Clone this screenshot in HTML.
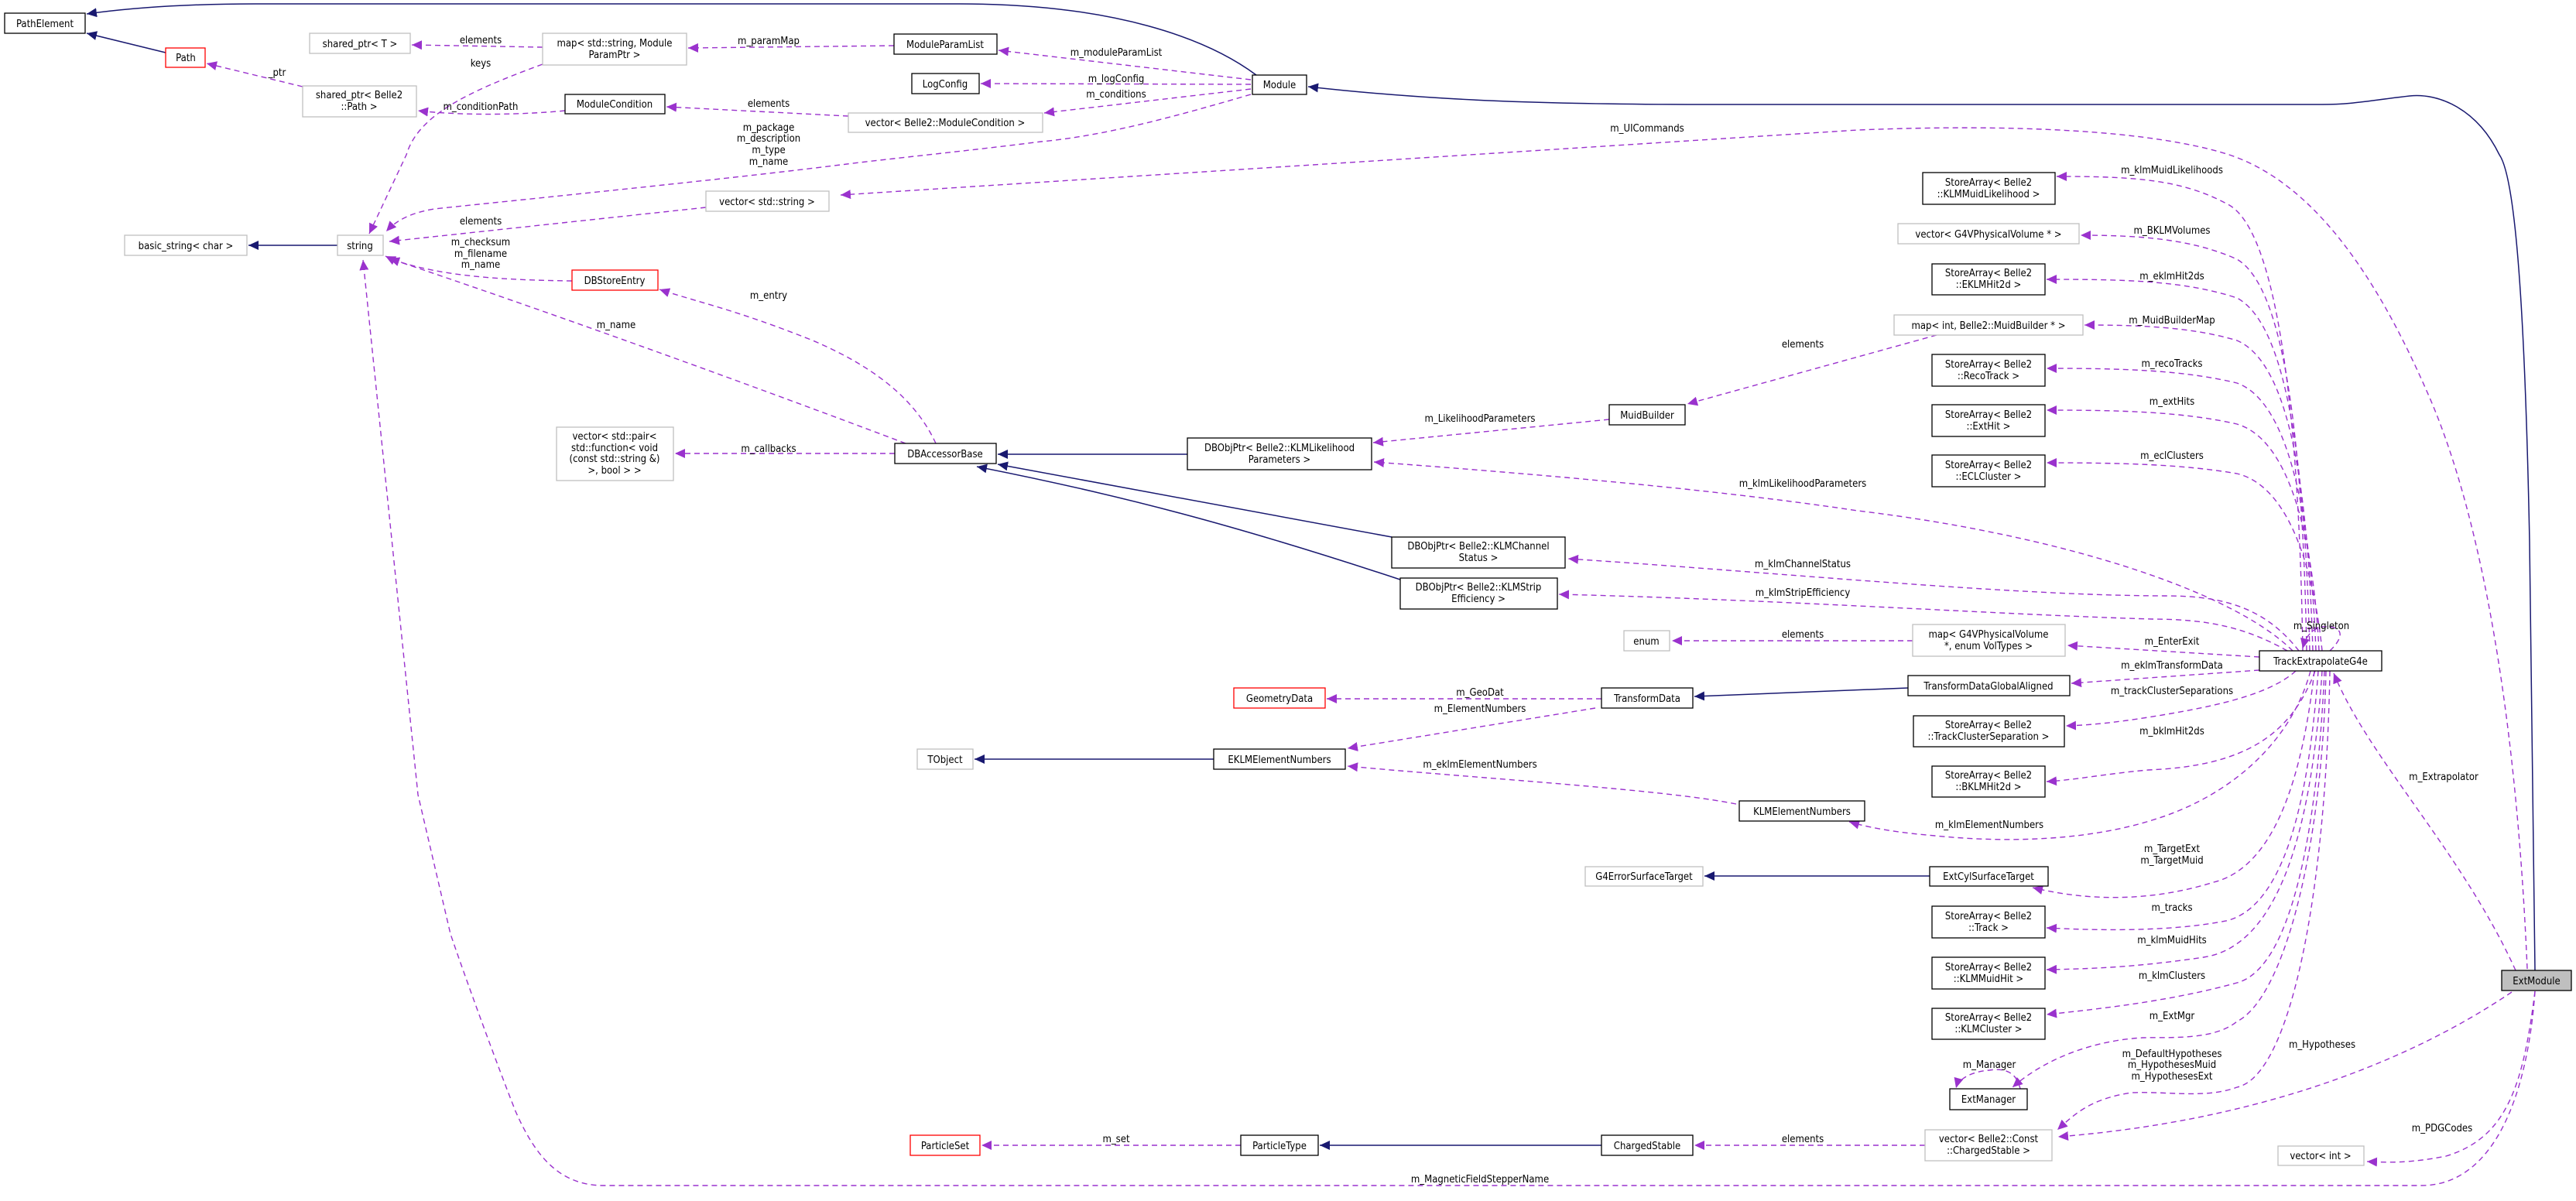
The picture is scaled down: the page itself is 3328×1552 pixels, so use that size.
<!DOCTYPE html>
<html><head><meta charset="utf-8">
<style>
html,body{margin:0;padding:0;background:#fff;}
svg{display:block;}
text{font-family:"DejaVu Sans Condensed","DejaVu Sans","Liberation Sans",sans-serif;font-stretch:condensed;font-size:13px;fill:#000;}
.b{fill:#fff;stroke:#000;stroke-width:1.3;}
.g{fill:#fff;stroke:#bfbfbf;stroke-width:1.3;}
.r{fill:#fff;stroke:#ff0000;stroke-width:1.3;}
.d{fill:none;stroke:#9a32cd;stroke-width:1.4;stroke-dasharray:7,5;marker-end:url(#pa);}
.s{fill:none;stroke:#191970;stroke-width:1.5;marker-end:url(#na);}
</style></head><body>
<svg width="3328" height="1552" viewBox="0 0 3328 1552" xmlns="http://www.w3.org/2000/svg">
<defs>
<marker id="pa" markerUnits="userSpaceOnUse" markerWidth="14" markerHeight="12" refX="13" refY="6" orient="auto"><path d="M0,0 L13,6 L0,12 z" fill="#9a32cd"/></marker>
<marker id="na" markerUnits="userSpaceOnUse" markerWidth="14" markerHeight="12" refX="13" refY="6" orient="auto"><path d="M0,0 L13,6 L0,12 z" fill="#191970"/></marker>
</defs>

<!-- inheritance edges -->
<path class="s" d="M1623,97 C1560,50 1440,5 1240,5 L330,5 C240,5 170,10 112,18"/>
<path class="s" d="M214,68 L112,43"/>
<path class="s" d="M3275,1254 L3268,700 C3262,400 3250,230 3229,200 C3200,140 3150,120 3113,124 C3060,130 3040,135 3000,135 L2200,135 C2000,135 1850,130 1690,112"/>
<path class="s" d="M436,317 L321,317"/>
<path class="s" d="M1534,587 L1289,587"/>
<path class="s" d="M1798,694 L1289,600"/>
<path class="s" d="M1809,749 C1600,680 1450,640 1262,603"/>
<path class="s" d="M1568,981 L1259,981"/>
<path class="s" d="M2465,889 L2189,900"/>
<path class="s" d="M2493,1132 L2202,1132"/>
<path class="s" d="M2069,1480 L1705,1480"/>

<!-- usage edges, top-left -->
<path class="d" d="M701,61 L532,58"/>
<path class="d" d="M1155,59 L889,62"/>
<path class="d" d="M701,83 C600,120 540,150 525,200 L477,302"/>
<path class="d" d="M391,112 L267,82"/>
<path class="d" d="M730,143 C680,148 600,150 540,143"/>
<path class="d" d="M1096,150 L861,138"/>
<path class="d" d="M1616,103 L1290,65"/>
<path class="d" d="M1616,109 L1267,108"/>
<path class="d" d="M1616,115 L1349,146"/>
<path class="d" d="M1616,122 C1520,150 1430,175 1345,183 C1250,195 1150,205 1094,212 C950,230 800,245 561,270 C530,275 512,285 499,299"/>
<path class="d" d="M912,268 L503,312"/>
<path class="d" d="M739,363 C650,362 590,357 540,345 C520,340 508,336 498,331"/>
<path class="d" d="M1170,573 C950,490 700,400 503,334"/>
<path class="d" d="M1209,573 C1180,510 1120,470 1050,440 C950,400 900,390 852,374"/>
<path class="d" d="M1156,586 L872,586"/>
<path class="d" d="M3265,1252 C3250,900 3200,650 3135,505 C3080,380 3000,240 2880,200 C2780,168 2600,160 2400,168 L1086,252"/>
<path class="d" d="M3275,1281 C3265,1420 3220,1532 3128,1532 L780,1532 C720,1532 690,1490 666,1436 C640,1370 600,1260 582,1207 L540,1027 L469,336"/>

<!-- middle -->
<path class="d" d="M2079,542 L1774,572"/>
<path class="d" d="M2502,433 L2180,522"/>
<path class="d" d="M2471,828 L2160,828"/>
<path class="d" d="M2069,903 L1714,903"/>
<path class="d" d="M2061,915 L1741,967"/>
<path class="d" d="M2243,1039 C2150,1020 1900,1005 1741,990"/>
<path class="d" d="M2487,1480 L2189,1480"/>
<path class="d" d="M1603,1480 L1268,1480"/>

<!-- TrackExtrapolateG4e top group -->
<path class="d" d="M2975,841 C2970,520 2940,300 2880,265 C2820,232 2760,228 2657,228"/>
<path class="d" d="M2980,841 C2975,560 2950,370 2890,335 C2830,308 2760,304 2688,304"/>
<path class="d" d="M2984,841 C2978,600 2955,420 2890,385 C2820,362 2740,361 2644,361"/>
<path class="d" d="M2988,841 C2982,640 2960,470 2890,440 C2830,422 2760,420 2693,420"/>
<path class="d" d="M2992,841 C2986,680 2960,520 2890,495 C2820,478 2740,476 2644,476"/>
<path class="d" d="M2996,841 C2990,720 2965,570 2890,548 C2820,532 2740,530 2644,530"/>
<path class="d" d="M3000,841 C2992,760 2965,630 2890,612 C2820,600 2740,598 2644,598"/>
<path class="d" d="M2962,841 C2880,760 2650,690 2400,660 C2200,630 1950,610 1775,597"/>
<path class="d" d="M2970,841 C2930,790 2880,770 2800,770 C2600,770 2300,740 2026,722"/>
<path class="d" d="M2955,841 C2900,810 2850,800 2780,800 C2600,795 2300,775 2014,768"/>
<path class="d" d="M3010,841 C3032,820 3025,808 3000,810 C2985,813 2978,825 2975,838"/>
<path class="d" d="M2919,849 L2671,834"/>
<path class="d" d="M2919,866 L2676,883"/>

<!-- bottom group -->
<path class="d" d="M2966,867 C2930,900 2850,915 2775,927 C2730,934 2700,937 2669,938"/>
<path class="d" d="M2991,867 C2960,950 2900,990 2775,995 C2720,1000 2680,1008 2644,1010"/>
<path class="d" d="M2985,867 C2960,960 2880,1030 2780,1060 C2700,1085 2600,1090 2500,1080 C2440,1075 2410,1068 2389,1062"/>
<path class="d" d="M2990,867 C2975,1000 2940,1120 2860,1140 C2780,1165 2700,1165 2626,1147"/>
<path class="d" d="M2995,867 C2985,1000 2960,1170 2876,1190 C2800,1205 2700,1202 2644,1199"/>
<path class="d" d="M3000,867 C2990,1020 2960,1220 2847,1237 C2760,1250 2700,1252 2644,1253"/>
<path class="d" d="M3003,867 C2995,1050 2965,1250 2890,1270 C2800,1295 2700,1305 2644,1311"/>
<path class="d" d="M3005,867 C3000,1100 2950,1290 2890,1320 C2860,1345 2800,1340 2768,1341 C2700,1345 2640,1370 2600,1405"/>
<path class="d" d="M3010,867 C3005,1150 2960,1390 2890,1405 C2850,1420 2800,1410 2754,1412 C2700,1420 2680,1440 2658,1460"/>
<path class="d" d="M2610,1407 C2605,1385 2590,1380 2570,1383 C2545,1385 2530,1395 2527,1406"/>
<path class="d" d="M3250,1254 C3180,1100 3060,980 3015,870"/>
<path class="d" d="M3245,1282 C3100,1380 2900,1450 2659,1469"/>
<path class="d" d="M3275,1281 C3260,1400 3240,1470 3160,1494 C3110,1504 3080,1502 3058,1501"/>

<!-- nodes -->
<rect class="b" x="6" y="17" width="104" height="26"/><text x="58" y="35" text-anchor="middle">PathElement</text>
<rect class="r" x="214" y="62" width="51" height="25"/><text x="240" y="79" text-anchor="middle">Path</text>
<rect class="g" x="400" y="43" width="130" height="26"/><text x="465" y="61" text-anchor="middle">shared_ptr&lt; T &gt;</text>
<rect class="g" x="701" y="43" width="186" height="41"/><text x="794" y="60" text-anchor="middle">map&lt; std::string, Module</text><text x="794" y="75" text-anchor="middle">ParamPtr &gt;</text>
<rect class="g" x="391" y="111" width="147" height="40"/><text x="464" y="127" text-anchor="middle">shared_ptr&lt; Belle2</text><text x="464" y="142" text-anchor="middle">::Path &gt;</text>
<rect class="b" x="730" y="122" width="129" height="25"/><text x="794" y="139" text-anchor="middle">ModuleCondition</text>
<rect class="b" x="1155" y="44" width="133" height="26"/><text x="1221" y="62" text-anchor="middle">ModuleParamList</text>
<rect class="b" x="1178" y="95" width="87" height="26"/><text x="1221" y="113" text-anchor="middle">LogConfig</text>
<rect class="g" x="1096" y="146" width="251" height="25"/><text x="1221" y="163" text-anchor="middle">vector&lt; Belle2::ModuleCondition &gt;</text>
<rect class="b" x="1618" y="97" width="70" height="25"/><text x="1653" y="114" text-anchor="middle">Module</text>
<rect class="g" x="912" y="247" width="159" height="26"/><text x="991" y="265" text-anchor="middle">vector&lt; std::string &gt;</text>
<rect class="g" x="161" y="304" width="158" height="26"/><text x="240" y="322" text-anchor="middle">basic_string&lt; char &gt;</text>
<rect class="g" x="436" y="304" width="59" height="26"/><text x="465" y="322" text-anchor="middle">string</text>
<rect class="r" x="739" y="349" width="111" height="26"/><text x="794" y="367" text-anchor="middle">DBStoreEntry</text>
<rect class="g" x="719" y="552" width="151" height="69"/><text x="794" y="568" text-anchor="middle">vector&lt; std::pair&lt;</text><text x="794" y="583" text-anchor="middle">std::function&lt; void</text><text x="794" y="597" text-anchor="middle">(const std::string &amp;)</text><text x="794" y="612" text-anchor="middle">&gt;, bool &gt; &gt;</text>
<rect class="b" x="1156" y="573" width="131" height="26"/><text x="1221" y="591" text-anchor="middle">DBAccessorBase</text>
<rect class="b" x="1534" y="566" width="238" height="41"/><text x="1653" y="583" text-anchor="middle">DBObjPtr&lt; Belle2::KLMLikelihood</text><text x="1653" y="598" text-anchor="middle">Parameters &gt;</text>
<rect class="b" x="2079" y="523" width="98" height="26"/><text x="2128" y="541" text-anchor="middle">MuidBuilder</text>
<rect class="b" x="1798" y="694" width="224" height="40"/><text x="1910" y="710" text-anchor="middle">DBObjPtr&lt; Belle2::KLMChannel</text><text x="1910" y="725" text-anchor="middle">Status &gt;</text>
<rect class="b" x="1809" y="747" width="203" height="40"/><text x="1910" y="763" text-anchor="middle">DBObjPtr&lt; Belle2::KLMStrip</text><text x="1910" y="778" text-anchor="middle">Efficiency &gt;</text>
<rect class="g" x="2098" y="815" width="59" height="26"/><text x="2127" y="833" text-anchor="middle">enum</text>
<rect class="r" x="1594" y="889" width="118" height="26"/><text x="1653" y="907" text-anchor="middle">GeometryData</text>
<rect class="b" x="2069" y="889" width="118" height="26"/><text x="2128" y="907" text-anchor="middle">TransformData</text>
<rect class="g" x="1185" y="968" width="72" height="26"/><text x="1221" y="986" text-anchor="middle">TObject</text>
<rect class="b" x="1568" y="968" width="170" height="26"/><text x="1653" y="986" text-anchor="middle">EKLMElementNumbers</text>

<rect class="b" x="2484" y="223" width="171" height="41"/><text x="2569" y="240" text-anchor="middle">StoreArray&lt; Belle2</text><text x="2569" y="255" text-anchor="middle">::KLMMuidLikelihood &gt;</text>
<rect class="g" x="2452" y="289" width="234" height="26"/><text x="2569" y="307" text-anchor="middle">vector&lt; G4VPhysicalVolume * &gt;</text>
<rect class="b" x="2496" y="341" width="146" height="40"/><text x="2569" y="357" text-anchor="middle">StoreArray&lt; Belle2</text><text x="2569" y="372" text-anchor="middle">::EKLMHit2d &gt;</text>
<rect class="g" x="2447" y="407" width="244" height="26"/><text x="2569" y="425" text-anchor="middle">map&lt; int, Belle2::MuidBuilder * &gt;</text>
<rect class="b" x="2496" y="458" width="146" height="41"/><text x="2569" y="475" text-anchor="middle">StoreArray&lt; Belle2</text><text x="2569" y="490" text-anchor="middle">::RecoTrack &gt;</text>
<rect class="b" x="2496" y="523" width="146" height="41"/><text x="2569" y="540" text-anchor="middle">StoreArray&lt; Belle2</text><text x="2569" y="555" text-anchor="middle">::ExtHit &gt;</text>
<rect class="b" x="2496" y="588" width="146" height="41"/><text x="2569" y="605" text-anchor="middle">StoreArray&lt; Belle2</text><text x="2569" y="620" text-anchor="middle">::ECLCluster &gt;</text>
<rect class="g" x="2471" y="807" width="197" height="41"/><text x="2569" y="824" text-anchor="middle">map&lt; G4VPhysicalVolume</text><text x="2569" y="839" text-anchor="middle">*, enum VolTypes &gt;</text>
<rect class="b" x="2919" y="841" width="158" height="26"/><text x="2998" y="859" text-anchor="middle">TrackExtrapolateG4e</text>
<rect class="b" x="2465" y="873" width="209" height="26"/><text x="2569" y="891" text-anchor="middle">TransformDataGlobalAligned</text>
<rect class="b" x="2472" y="925" width="195" height="40"/><text x="2569" y="941" text-anchor="middle">StoreArray&lt; Belle2</text><text x="2569" y="956" text-anchor="middle">::TrackClusterSeparation &gt;</text>
<rect class="b" x="2496" y="990" width="146" height="40"/><text x="2569" y="1006" text-anchor="middle">StoreArray&lt; Belle2</text><text x="2569" y="1021" text-anchor="middle">::BKLMHit2d &gt;</text>
<rect class="b" x="2247" y="1035" width="162" height="26"/><text x="2328" y="1053" text-anchor="middle">KLMElementNumbers</text>
<rect class="g" x="2048" y="1120" width="152" height="25"/><text x="2124" y="1137" text-anchor="middle">G4ErrorSurfaceTarget</text>
<rect class="b" x="2493" y="1120" width="153" height="25"/><text x="2569" y="1137" text-anchor="middle">ExtCylSurfaceTarget</text>
<rect class="b" x="2496" y="1171" width="146" height="41"/><text x="2569" y="1188" text-anchor="middle">StoreArray&lt; Belle2</text><text x="2569" y="1203" text-anchor="middle">::Track &gt;</text>
<rect class="b" x="2496" y="1237" width="146" height="41"/><text x="2569" y="1254" text-anchor="middle">StoreArray&lt; Belle2</text><text x="2569" y="1269" text-anchor="middle">::KLMMuidHit &gt;</text>
<rect class="b" x="2496" y="1303" width="146" height="40"/><text x="2569" y="1319" text-anchor="middle">StoreArray&lt; Belle2</text><text x="2569" y="1334" text-anchor="middle">::KLMCluster &gt;</text>
<rect class="b" x="2519" y="1407" width="100" height="27"/><text x="2569" y="1425" text-anchor="middle">ExtManager</text>
<rect class="g" x="2487" y="1460" width="164" height="40"/><text x="2569" y="1476" text-anchor="middle">vector&lt; Belle2::Const</text><text x="2569" y="1491" text-anchor="middle">::ChargedStable &gt;</text>
<rect class="g" x="2943" y="1481" width="111" height="25"/><text x="2998" y="1498" text-anchor="middle">vector&lt; int &gt;</text>
<rect x="3232" y="1254" width="90" height="26" fill="#bfbfbf" stroke="#000" stroke-width="1.3"/><text x="3277" y="1272" text-anchor="middle">ExtModule</text>
<rect class="r" x="1176" y="1467" width="90" height="26"/><text x="1221" y="1485" text-anchor="middle">ParticleSet</text>
<rect class="b" x="1603" y="1467" width="100" height="26"/><text x="1653" y="1485" text-anchor="middle">ParticleType</text>
<rect class="b" x="2069" y="1467" width="118" height="26"/><text x="2128" y="1485" text-anchor="middle">ChargedStable</text>

<!-- edge labels -->
<g text-anchor="middle">
<text x="621" y="56">elements</text>
<text x="993" y="57">m_paramMap</text>
<text x="621" y="86">keys</text>
<text x="358" y="98">_ptr</text>
<text x="621" y="142">m_conditionPath</text>
<text x="993" y="138">elements</text>
<text x="993" y="169">m_package</text>
<text x="993" y="183">m_description</text>
<text x="993" y="198">m_type</text>
<text x="993" y="213">m_name</text>
<text x="621" y="290">elements</text>
<text x="621" y="317">m_checksum</text>
<text x="621" y="332">m_filename</text>
<text x="621" y="346">m_name</text>
<text x="993" y="386">m_entry</text>
<text x="796" y="424">m_name</text>
<text x="1442" y="72">m_moduleParamList</text>
<text x="1442" y="106">m_logConfig</text>
<text x="1442" y="126">m_conditions</text>
<text x="2128" y="170">m_UICommands</text>
<text x="2806" y="224">m_klmMuidLikelihoods</text>
<text x="2806" y="302">m_BKLMVolumes</text>
<text x="2806" y="361">m_eklmHit2ds</text>
<text x="2806" y="418">m_MuidBuilderMap</text>
<text x="2806" y="474">m_recoTracks</text>
<text x="2329" y="449">elements</text>
<text x="2806" y="523">m_extHits</text>
<text x="2806" y="593">m_eclClusters</text>
<text x="1912" y="545">m_LikelihoodParameters</text>
<text x="993" y="584">m_callbacks</text>
<text x="2329" y="629">m_klmLikelihoodParameters</text>
<text x="2329" y="733">m_klmChannelStatus</text>
<text x="2329" y="770">m_klmStripEfficiency</text>
<text x="2329" y="824">elements</text>
<text x="2999" y="813">m_Singleton</text>
<text x="2806" y="833">m_EnterExit</text>
<text x="2806" y="864">m_eklmTransformData</text>
<text x="2806" y="897">m_trackClusterSeparations</text>
<text x="2806" y="949">m_bklmHit2ds</text>
<text x="3157" y="1008">m_Extrapolator</text>
<text x="1912" y="899">m_GeoDat</text>
<text x="1912" y="920">m_ElementNumbers</text>
<text x="1912" y="992">m_eklmElementNumbers</text>
<text x="2570" y="1070">m_klmElementNumbers</text>
<text x="2806" y="1101">m_TargetExt</text>
<text x="2806" y="1116">m_TargetMuid</text>
<text x="2806" y="1177">m_tracks</text>
<text x="2806" y="1219">m_klmMuidHits</text>
<text x="2806" y="1265">m_klmClusters</text>
<text x="2806" y="1317">m_ExtMgr</text>
<text x="2570" y="1380">m_Manager</text>
<text x="2806" y="1366">m_DefaultHypotheses</text>
<text x="2806" y="1380">m_HypothesesMuid</text>
<text x="2806" y="1395">m_HypothesesExt</text>
<text x="3000" y="1354">m_Hypotheses</text>
<text x="3155" y="1462">m_PDGCodes</text>
<text x="2329" y="1476">elements</text>
<text x="1442" y="1476">m_set</text>
<text x="1912" y="1528">m_MagneticFieldStepperName</text>
</g>
</svg>
</body></html>
